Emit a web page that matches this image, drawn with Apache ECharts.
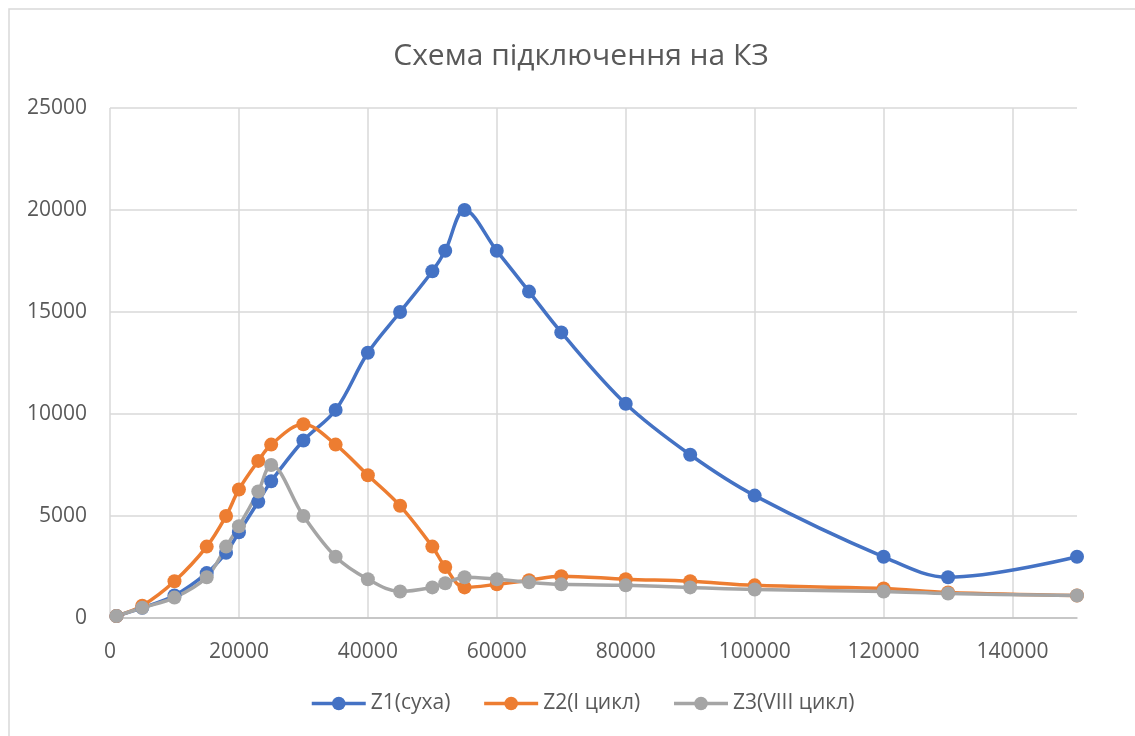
<!DOCTYPE html>
<html>
<head>
<meta charset="utf-8">
<script src="https://cdn.jsdelivr.net/npm/echarts@6/dist/echarts.min.js"></script>
<style>
html,body{margin:0;padding:0;background:#fff;}
#chart{width:1135px;height:736px;}
</style>
</head>
<body>
<div id="chart"></div>
<script>
const titleText = 'Схема підключення на КЗ';
const xValues = [1000, 5000, 10000, 15000, 18000, 20000, 23000, 25000, 30000, 35000, 40000, 45000, 50000, 52000, 55000, 60000, 65000, 70000, 80000, 90000, 100000, 120000, 130000, 150000];
const z1Name = 'Z1(суха)';
const z1Values = [100, 500, 1100, 2200, 3200, 4200, 5700, 6700, 8700, 10200, 13000, 15000, 17000, 18000, 20000, 18000, 16000, 14000, 10500, 8000, 6000, 3000, 2000, 3000];
const z2Name = 'Z2(I цикл)';
const z2Values = [100, 600, 1800, 3500, 5000, 6300, 7700, 8500, 9500, 8500, 7000, 5500, 3500, 2500, 1500, 1650, 1850, 2050, 1900, 1800, 1600, 1450, 1250, 1100];
const z3Name = 'Z3(VIII цикл)';
const z3Values = [100, 500, 1000, 2000, 3500, 4500, 6200, 7500, 5000, 3000, 1900, 1300, 1500, 1700, 2000, 1900, 1750, 1650, 1600, 1500, 1400, 1300, 1200, 1100];

function pairs(xs, ys) { return xs.map((x, i) => [x, ys[i]]); }

const FONT = 'Open Sans';
const chart = echarts.init(document.getElementById('chart'));
function mkSeries(name, vals, color) {
  return {
    name: name, type: 'line', data: pairs(xValues, vals),
    smooth: 0.35, symbol: 'circle', symbolSize: 14,
    itemStyle: { color: color },
    lineStyle: { color: color, width: 3.5 },
    emphasis: { disabled: true },
    animation: false
  };
}
chart.setOption({
  backgroundColor: '#fff',
  animation: false,
  title: {
    text: titleText, left: 576, top: 36, textAlign: 'center',
    textStyle: { fontFamily: FONT, fontSize: 30, fontWeight: 'normal', color: '#595959' }
  },
  legend: {
    left: 310, top: 693, padding: 0, itemWidth: 54, itemHeight: 17, itemGap: 32,
    lineStyle: { width: 3.5 },
    textStyle: { fontFamily: FONT, fontSize: 21, color: '#595959' },
    data: [z1Name, z2Name, z3Name]
  },
  grid: { left: 110, right: 58, top: 108, bottom: 118, containLabel: false },
  xAxis: {
    type: 'value', min: 0, max: 150000, interval: 20000,
    axisLine: { show: true, lineStyle: { color: '#bfbfbf', width: 1.5 } },
    axisTick: { show: false },
    axisLabel: { showMaxLabel: false, margin: 24, fontFamily: FONT, fontSize: 21, color: '#595959', formatter: v => String(v) },
    splitLine: { show: true, showMaxLine: false, lineStyle: { color: '#d9d9d9', width: 1.5 } }
  },
  yAxis: {
    type: 'value', min: 0, max: 25000, interval: 5000,
    axisLine: { show: false }, axisTick: { show: false },
    axisLabel: { margin: 23, fontFamily: FONT, fontSize: 21, color: '#595959', formatter: v => String(v) },
    splitLine: { show: true, lineStyle: { color: '#d9d9d9', width: 1.5 } }
  },
  graphic: [
    { type: 'rect', shape: { x: 9, y: 9, width: 1300, height: 900 }, style: { fill: 'none', stroke: '#d9d9d9', lineWidth: 1.5 }, z: -1 },
    { type: 'text', left: 12, top: -22, style: { text: 'Гістограму наведено нижче.', font: '21px "Liberation Serif"', fill: '#000' } }
  ],
  series: [
    mkSeries(z1Name, z1Values, '#4472C4'),
    mkSeries(z2Name, z2Values, '#ED7D31'),
    mkSeries(z3Name, z3Values, '#A5A5A5')
  ]
});
</script>
</body>
</html>
